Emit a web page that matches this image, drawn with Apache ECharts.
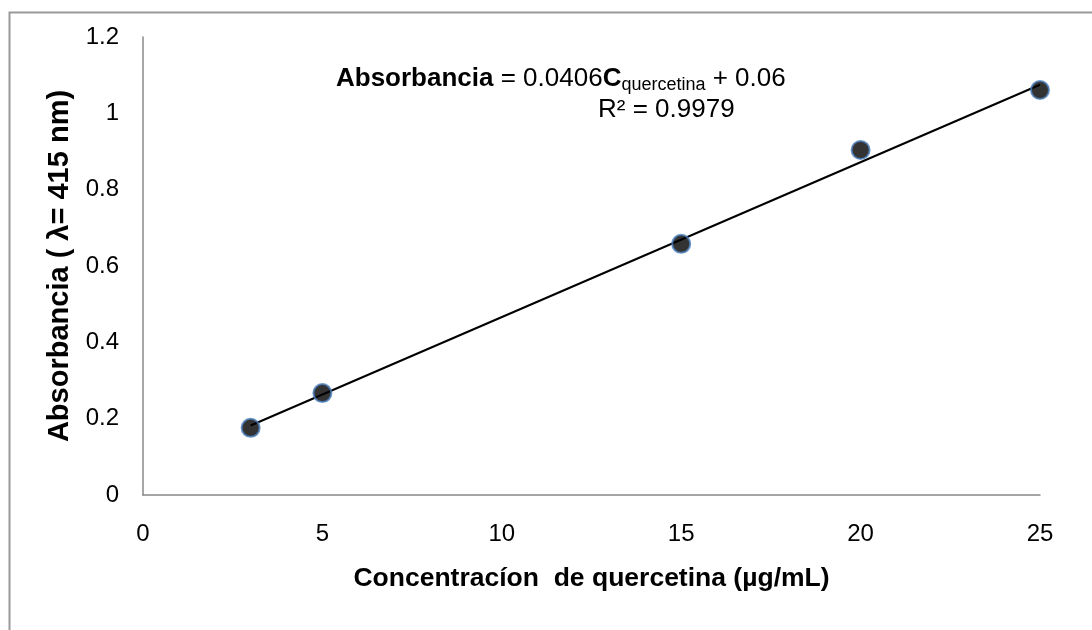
<!DOCTYPE html>
<html>
<head>
<meta charset="utf-8">
<script src="https://cdn.jsdelivr.net/npm/echarts@6/dist/echarts.min.js"></script>
<style>
html,body{margin:0;padding:0;background:#fff;}
#chart{width:1092px;height:630px;}
</style>
</head>
<body>
<div id="chart"></div>
<script>
// Data
const concentrations = [3, 5, 15, 20, 25];
const absorbances = [0.176, 0.267, 0.658, 0.904, 1.061];
const trendX = [3, 25];
const trendY = [0.182, 1.075];
const xTicks = [0, 5, 10, 15, 20, 25];
const yTicks = [0, 0.2, 0.4, 0.6, 0.8, 1, 1.2];
const xTitle = 'Concentracíon  de quercetina (µg/mL)';
const yTitle = 'Absorbancia ( λ= 415 nm)';
const eqLine2 = 'R² = 0.9979';

const font = '"Liberation Sans", Arial, sans-serif';
const chart = echarts.init(document.getElementById('chart'));
chart.setOption({
  animation: false,
  backgroundColor: '#fff',
  textStyle: { fontFamily: font },
  grid: { left: 143, right: 52, top: 37, bottom: 135, containLabel: false },
  xAxis: {
    type: 'value', min: xTicks[0], max: xTicks[xTicks.length - 1], interval: 5,
    name: xTitle, nameLocation: 'middle', nameGap: 70,
    nameTextStyle: { fontSize: 26.5, fontWeight: 'bold', color: '#000', fontFamily: font },
    axisLine: { show: true, lineStyle: { color: '#888', width: 1.5 } },
    axisTick: { show: false },
    splitLine: { show: false },
    axisLabel: { fontSize: 24, color: '#000', margin: 27, fontFamily: font }
  },
  yAxis: {
    type: 'value', min: yTicks[0], max: yTicks[yTicks.length - 1], interval: 0.2,
    name: yTitle, nameLocation: 'middle', nameGap: 64, nameRotate: 90,
    nameTextStyle: { fontSize: 29, fontWeight: 'bold', color: '#000', fontFamily: font },
    axisLine: { show: true, lineStyle: { color: '#888', width: 1.5 } },
    axisTick: { show: false },
    splitLine: { show: false },
    axisLabel: { fontSize: 24, color: '#000', margin: 24, fontFamily: font }
  },
  graphic: [
    { type: 'rect', left: 7, top: 10, shape: { width: 1200, height: 700 },
      style: { fill: 'none', stroke: '#999', lineWidth: 2 }, silent: true },
    { type: 'text', left: 336, top: 66,
      style: {
        text: '{b|Absorbancia}{n| = 0.0406}{b|C}{s|quercetina}{n| + 0.06}',
        rich: {
          b: { fontSize: 26, fontWeight: 'bold', fontFamily: font, fill: '#000', lineHeight: 30 },
          n: { fontSize: 26, fontFamily: font, fill: '#000', lineHeight: 30 },
          s: { fontSize: 18, fontFamily: font, fill: '#000', lineHeight: 30, verticalAlign: 'bottom' }
        }
      } },
    { type: 'text', left: 598, top: 97,
      style: { text: eqLine2, fontSize: 26, fontFamily: font, fill: '#000' } }
  ],
  series: [
    {
      type: 'line', data: trendX.map((x, i) => [x, trendY[i]]),
      symbol: 'none', lineStyle: { color: '#000', width: 2 }, z: 2
    },
    {
      type: 'scatter', data: concentrations.map((x, i) => [x, absorbances[i]]),
      symbol: 'circle', symbolSize: 18,
      itemStyle: { color: '#000', borderColor: '#4a7ebb', borderWidth: 2 }, z: 3
    }
  ]
});
</script>
</body>
</html>
